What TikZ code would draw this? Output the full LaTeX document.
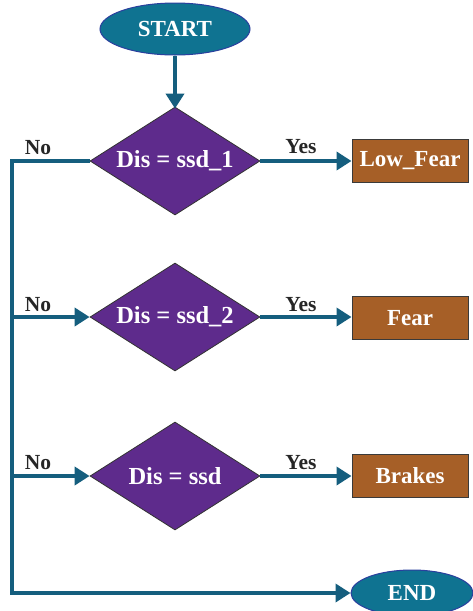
\documentclass[tikz,border=0pt]{standalone}
\usepackage{fontspec}
\setmainfont{Liberation Serif}
\usetikzlibrary{shapes.geometric,arrows.meta}
\definecolor{termfill}{HTML}{0F7391}
\definecolor{termdraw}{HTML}{2A3F9E}
\definecolor{flowc}{HTML}{155E7E}
\definecolor{decfill}{HTML}{5E2B8C}
\definecolor{boxfill}{HTML}{A65F27}
\definecolor{boxdraw}{HTML}{3A3A3A}
\begin{document}
\begin{tikzpicture}[x=1pt,y=-1pt,
  term/.style={ellipse,draw=termdraw,line width=1pt,fill=termfill,text=white,
    font=\bfseries\fontsize{23}{25}\selectfont,inner sep=0pt},
  dec/.style={diamond,draw=black!80,line width=0.8pt,fill=decfill,text=white,
    font=\bfseries\fontsize{24.5}{26}\selectfont,inner sep=0pt,aspect=1.57,
    minimum width=170pt,minimum height=108pt},
  act/.style={rectangle,draw=boxdraw,line width=1pt,fill=boxfill,text=white,
    font=\bfseries\fontsize{23}{25}\selectfont,inner sep=0pt,
    minimum width=116pt,minimum height=43pt},
  lab/.style={font=\bfseries\fontsize{21.5}{23}\selectfont,text=black!85,inner sep=0pt},
  flow/.style={draw=flowc,line width=4pt},
  flowarrow/.style={flow,-{Triangle[length=15pt,width=18pt]}}]
\useasboundingbox[fill=white] (0,0) rectangle (473,611);
\node[term,minimum width=150pt,minimum height=52pt] (start) at (175,29) {START};
\node[dec] (d1) at (175,161) {Dis = ssd\_1};
\node[dec] (d2) at (175,317) {Dis = ssd\_2};
\node[dec] (d3) at (175,476) {Dis = ssd};
\node[act] (a1) at (410,161) {Low\_Fear};
\node[act] (a2) at (410,318) {Fear};
\node[act] (a3) at (410,476) {Brakes};
\node[term,minimum width=122pt,minimum height=46pt] (end) at (412,593) {END};
\coordinate (c1) at (12,161);
\coordinate (c2) at (12,317);
\coordinate (c3) at (12,476);
\coordinate (c4) at (12,593);
\draw[flowarrow] (start) -- ([yshift=-2pt]d1.north);
\draw[flowarrow] (d1.west) -- (c1) -- (c4) -- (end.west);
\draw[flowarrow] (c2) -- (d2.west);
\draw[flowarrow] (c3) -- (d3.west);
\draw[flowarrow] (d1.east) -- (a1.west);
\draw[flowarrow] (d2.east) -- (a2.west |- d2.east);
\draw[flowarrow] (d3.east) -- (a3.west);
\node[lab] (no1) at (38,148) {No};
\node[lab] (no2) at (38,305) {No};
\node[lab] (no3) at (38,463) {No};
\node[lab] (yes1) at (301,147) {Yes};
\node[lab] (yes2) at (301,305) {Yes};
\node[lab] (yes3) at (301,463) {Yes};
\end{tikzpicture}
\end{document}
